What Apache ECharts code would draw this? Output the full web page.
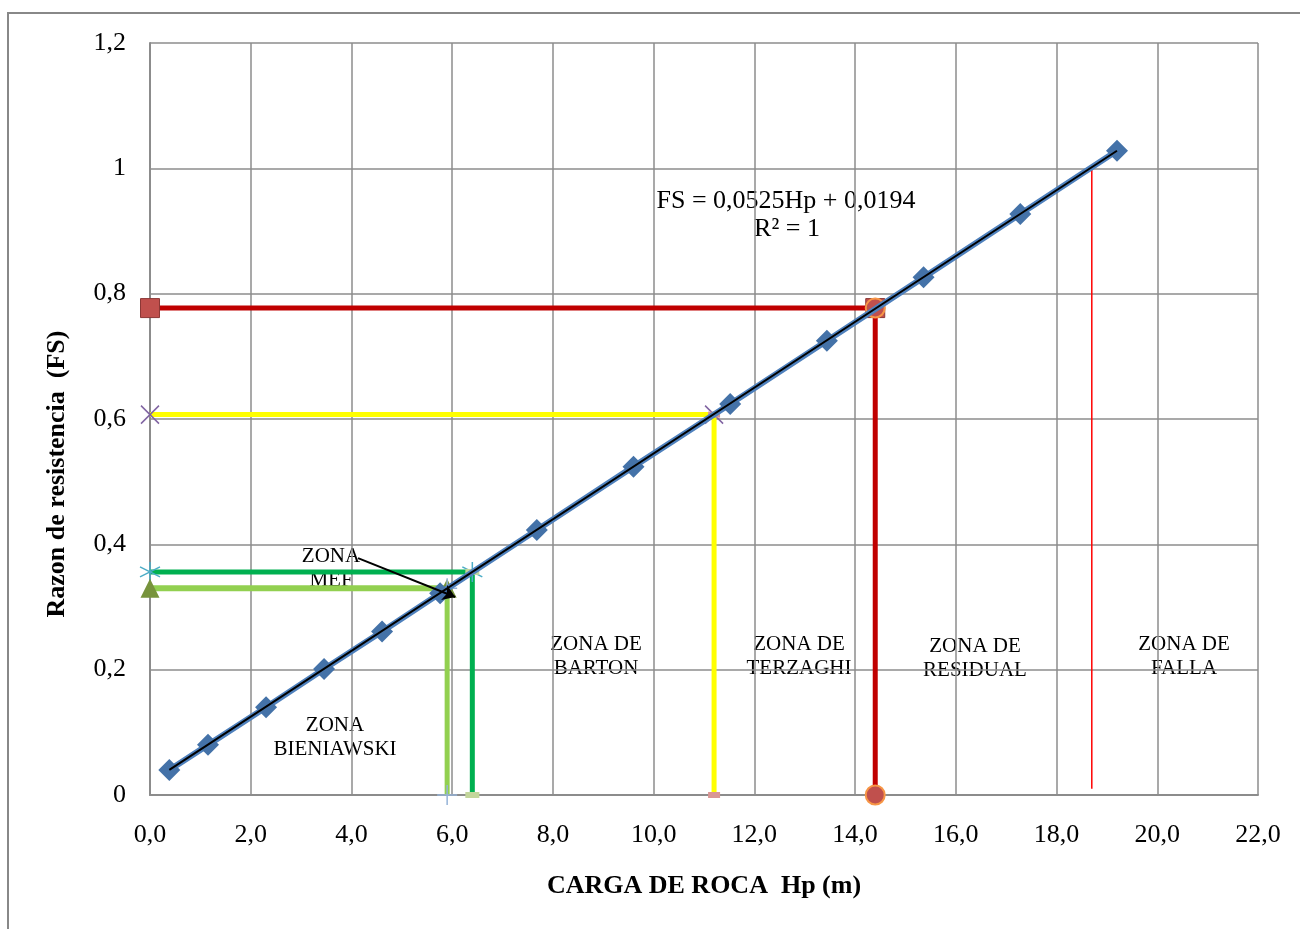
<!DOCTYPE html>
<html>
<head>
<meta charset="utf-8">
<script src="https://cdn.jsdelivr.net/npm/echarts@6/dist/echarts.min.js"></script>
<style>
html,body{margin:0;padding:0;background:#fff;}
#c{width:1300px;height:929px;}
</style>
</head>
<body>
<div id="c"></div>
<script>
// ---- data ----
const hp = [0.384, 1.152, 2.304, 3.456, 4.608, 5.76, 7.68, 9.6, 11.52, 13.44, 15.36, 17.28, 19.2];
const fs = [0.040, 0.080, 0.140, 0.201, 0.261, 0.322, 0.423, 0.524, 0.624, 0.725, 0.826, 0.927, 1.028];
const trendHp = [0.384, 19.2];
const trendFs = [0.040, 1.028];
// reference levels: [Hp, FS]
const redRef = [14.4, 0.777];
const yellowRef = [11.2, 0.607];
const greenRef = [6.4, 0.356];
const lightGreenRef = [5.9, 0.330];
const failureHp = [18.7, 18.7];
const failureFs = [0.01, 1.0];
const arrowFrom = [4.13, 0.378];
const arrowTo = [6.06, 0.316];
const xTicks = [0, 2, 4, 6, 8, 10, 12, 14, 16, 18, 20, 22];
const yTicks = [0, 0.2, 0.4, 0.6, 0.8, 1.0, 1.2];

const FONT = "'Liberation Serif','Times New Roman',serif";
const GRID = '#8C8C8C';

const X_PATH = 'path://M0,0L20,20M20,0L0,20';
const STAR_PATH = 'path://M10,0L10,20M1.34,5L18.66,15M1.34,15L18.66,5';
const PLUS_PATH = 'path://M10,0L10,20M0,10L20,10';

function hLine(ref, color, width, symbol, size, itemStyle) {
  return {
    type: 'line', data: [[0, ref[1]], [ref[0], ref[1]]],
    lineStyle: {color: color, width: width}, symbol: symbol, symbolSize: size,
    itemStyle: itemStyle, clip: false, z: 2, silent: true
  };
}
function vLine(ref, color, width, symbol, size, itemStyle) {
  return {
    type: 'line', data: [[ref[0], ref[1]], [ref[0], 0]],
    lineStyle: {color: color, width: width}, symbol: symbol, symbolSize: size,
    itemStyle: itemStyle, clip: false, z: 2, silent: true
  };
}

const chart = echarts.init(document.getElementById('c'), null, {renderer: 'canvas'});
const series = [
  hLine(redRef, '#C00000', 5, 'rect', 19, {color: '#C0504D', borderColor: '#8C3836', borderWidth: 1}),
  hLine(yellowRef, '#FFFF00', 5, X_PATH, 18, {color: '#8064A2', borderColor: '#8064A2', borderWidth: 1.5}),
  vLine(yellowRef, '#FFFF00', 5, 'rect', [12, 6], {color: '#D99694'}),
  hLine(greenRef, '#00B050', 5, STAR_PATH, 20, {color: '#4BACC6', borderColor: '#4BACC6', borderWidth: 1.5}),
  vLine(greenRef, '#00B050', 5, 'rect', [14, 6], {color: '#C3D69B'}),
  hLine(lightGreenRef, '#92D050', 6, 'triangle', 19, {color: '#77933C'}),
  vLine(lightGreenRef, '#92D050', 5, PLUS_PATH, 20, {color: '#95B3D7', borderColor: '#95B3D7', borderWidth: 1.5}),
  vLine(redRef, '#C00000', 5, 'circle', 19, {color: '#C0504D', borderColor: '#F79646', borderWidth: 2}),
  {
    type: 'line', data: failureHp.map((x, i) => [x, failureFs[i]]),
    lineStyle: {color: '#FF0000', width: 1.5}, symbol: 'none', z: 2, silent: true
  },
  {
    type: 'line', data: hp.map((x, i) => [x, fs[i]]),
    lineStyle: {color: '#4F81BD', width: 6}, symbol: 'diamond', symbolSize: 22,
    itemStyle: {color: '#4472A8'}, clip: false, z: 3, silent: true
  },
  {
    type: 'line', data: trendHp.map((x, i) => [x, trendFs[i]]),
    lineStyle: {color: '#000000', width: 2}, symbol: 'none', z: 4, silent: true,
    markLine: {
      silent: true, symbol: ['none', 'arrow'], symbolSize: 12,
      label: {show: false},
      lineStyle: {color: '#000', width: 2, type: 'solid'},
      data: [[{coord: arrowFrom}, {coord: arrowTo}]]
    }
  }
];

const txt = (x, y, text, font) => ({
  type: 'text', x: x, y: y, silent: true,
  style: {text: text, font: font, fill: '#000', align: 'center', verticalAlign: 'middle', lineHeight: 24}
});

chart.setOption({
  animation: false,
  backgroundColor: '#fff',
  grid: {left: 150, right: 42, top: 43, bottom: 134, containLabel: false},
  xAxis: {
    type: 'value', min: 0, max: 22, interval: 2,
    axisLine: {show: true, onZero: false, lineStyle: {color: GRID, width: 2}},
    axisTick: {show: false},
    splitLine: {show: true, lineStyle: {color: GRID, width: 1.5}},
    axisLabel: {
      margin: 27, fontFamily: FONT, fontSize: 26, color: '#000',
      formatter: v => xTicks.includes(v) ? v.toFixed(1).replace('.', ',') : ''
    }
  },
  yAxis: {
    type: 'value', min: 0, max: 1.2, interval: 0.2,
    axisLine: {show: true, onZero: false, lineStyle: {color: GRID, width: 2}},
    axisTick: {show: false},
    splitLine: {show: true, lineStyle: {color: GRID, width: 1.5}},
    axisLabel: {
      margin: 24, fontFamily: FONT, fontSize: 26, color: '#000',
      formatter: v => String(+(+v).toFixed(1)).replace('.', ',')
    }
  },
  series: series,
  graphic: [
    {type: 'rect', silent: true, shape: {x: 8, y: 13, width: 1310, height: 940},
     style: {fill: 'none', stroke: '#888', lineWidth: 2}, z: -1},
    txt(704, 886, 'CARGA DE ROCA  Hp (m)', 'bold 26px ' + FONT),
    {type: 'text', x: 57, y: 474, rotation: Math.PI / 2, silent: true,
     style: {text: 'Razon de resistencia  (FS)', font: 'bold 26px ' + FONT, fill: '#000', align: 'center', verticalAlign: 'middle'}},
    txt(786, 201, 'FS = 0,0525Hp + 0,0194', '26px ' + FONT),
    txt(787, 229, 'R² = 1', '26px ' + FONT),
    txt(331, 568, 'ZONA\nMEF', '21px ' + FONT),
    txt(335, 737, 'ZONA\nBIENIAWSKI', '21px ' + FONT),
    txt(596, 656, 'ZONA DE\nBARTON', '21px ' + FONT),
    txt(799, 656, 'ZONA DE\nTERZAGHI', '21px ' + FONT),
    txt(975, 658, 'ZONA DE\nRESIDUAL', '21px ' + FONT),
    txt(1184, 656, 'ZONA DE\nFALLA', '21px ' + FONT)
  ]
});
</script>
</body>
</html>
